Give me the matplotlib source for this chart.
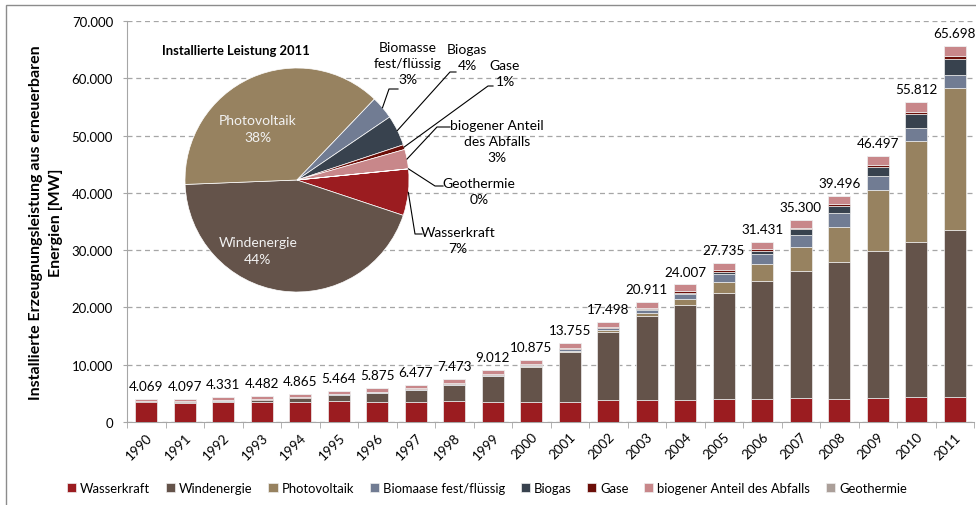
import matplotlib
matplotlib.use("Agg")
import matplotlib.pyplot as plt
import numpy as np
from matplotlib.patches import Rectangle

plt.rcParams['font.family'] = ['Lato', 'DejaVu Sans']

# --- data (MW) ---
years = [str(y) for y in range(1990, 2012)]
wasserkraft = [3429, 3394, 3550, 3509, 3563, 3595, 3510, 3538, 3600, 3523, 3538,
               3538, 3785, 3902, 3805, 4071, 4068, 4156, 4100, 4194, 4351, 4401]
windenergie = [55, 106, 174, 326, 618, 1121, 1549, 2089, 2877, 4435, 6097,
               8750, 11989, 14604, 16623, 18390, 20579, 22194, 23836, 25732, 27098, 29075]
photovoltaik = [2, 3, 6, 9, 12, 18, 28, 42, 54, 70, 114,
                176, 296, 435, 1105, 2056, 2899, 4170, 6120, 10566, 17554, 24820]
biomasse = [40, 40, 40, 40, 50, 60, 70, 80, 90, 100, 150,
            250, 350, 600, 850, 1300, 1700, 2100, 2350, 2450, 2250, 2200]
biogas = [5, 5, 5, 5, 5, 10, 10, 10, 10, 10, 20,
          30, 50, 100, 150, 300, 550, 1000, 1300, 1600, 2500, 2900]
gase = [80, 80, 80, 100, 100, 120, 150, 150, 170, 180, 200,
        200, 200, 250, 300, 350, 350, 300, 300, 300, 350, 450]
abfall = [458, 469, 476, 493, 517, 540, 558, 568, 672, 694, 756,
          811, 828, 1019, 1173, 1267, 1283, 1377, 1487, 1650, 1702, 1845]
geothermie = [0, 0, 0, 0, 0, 0, 0, 0, 0, 0, 0,
              0, 0, 1, 1, 1, 2, 3, 3, 5, 7, 7]

series_names = ['Wasserkraft', 'Windenergie', 'Photovoltaik', 'Biomaase fest/flüssig',
                'Biogas', 'Gase', 'biogener Anteil des Abfalls', 'Geothermie']
series = [wasserkraft, windenergie, photovoltaik, biomasse, biogas, gase, abfall, geothermie]
colors = ['#9b1c20', '#64534a', '#978260', '#717c93', '#38424e', '#6b0e08', '#c8878a', '#ab9f99']

pie_labels = ['Wasserkraft', 'Windenergie', 'Photovoltaik', 'Biomasse\nfest/flüssig',
              'Biogas', 'Gase', 'biogener Anteil\ndes Abfalls', 'Geothermie']

# --- figure ---
fig = plt.figure(figsize=(9.76, 5.06), dpi=100)
W, H = 976, 506
ax = fig.add_axes([127 / W, 1 - 423 / H, (974 - 127) / W, (423 - 22) / H])

x = np.arange(len(years))
bottom = np.zeros(len(years))
for name, vals, c in zip(series_names, series, colors):
    vals = np.array(vals, dtype=float)
    ax.bar(x, vals, 0.57, bottom=bottom, color=c, label=name,
           edgecolor='#eeeeee', linewidth=0.5, zorder=3)
    bottom += vals

totals = bottom
for xi, t in zip(x, totals):
    ax.annotate(f"{int(round(t)):,}".replace(',', '.'), (xi, t), xytext=(0, 5),
                textcoords='offset points', ha='center', va='bottom', fontsize=9.7)

ax.set_xlim(-0.5, len(years) - 0.5)
ax.set_ylim(0, 70000)
ax.set_yticks(np.arange(0, 70001, 10000))
ax.set_yticklabels([f"{v:,}".replace(',', '.') for v in range(0, 70001, 10000)], fontsize=9.5)
ax.yaxis.grid(True, linestyle=(0, (4, 3)), color='#a6a6a6', linewidth=0.9, zorder=0)
ax.set_axisbelow(True)
ax.tick_params(axis='y', length=3, color='#a6a6a6', pad=7)

ax.set_xticks(x)
ax.set_xticklabels(years, rotation=45, ha='right', rotation_mode='anchor', fontsize=9.7)
ax.tick_params(axis='x', which='major', length=0, pad=6)
ax.set_xticks(np.arange(-0.5, len(years), 1), minor=True)
ax.tick_params(axis='x', which='minor', length=4, color='#a6a6a6')

for s in ['top', 'right']:
    ax.spines[s].set_visible(False)
for s in ['left', 'bottom']:
    ax.spines[s].set_color('#a6a6a6')

ax.set_ylabel('Installierte Erzeugnungsleistung aus erneuerbaren\nEnergien [MW]',
              fontsize=11.5, fontweight='bold', linespacing=1.45)
ax.yaxis.set_label_coords(-0.076, 0.5)

handles, labels = ax.get_legend_handles_labels()
fig.legend(handles, labels, loc='center', bbox_to_anchor=(487 / W, 1 - 489 / H),
           ncol=8, frameon=False, fontsize=9.4, handlelength=0.7, handleheight=0.7,
           handletextpad=0.3, columnspacing=1.2)

# --- pie inset ---
cx, cy, r = 297, 181, 112
pax = fig.add_axes([(cx - r) / W, 1 - (cy + r) / H, 2 * r / W, 2 * r / H])
last = [s[-1] for s in series]
total11 = sum(last)
wedges, _ = pax.pie(last, colors=colors, startangle=5.7, counterclock=False,
                    wedgeprops=dict(edgecolor='white', linewidth=0.5))
pax.set_xlim(-1, 1)
pax.set_ylim(-1, 1)
pax.set_aspect('equal')
pax.axis('off')

pct = [f"{round(100 * v / total11)}%" for v in last]

# inside labels
pax.text(-0.35, 0.46, f"{pie_labels[2]}\n{pct[2]}", color='#f2f2f2', ha='center',
         va='center', fontsize=10, linespacing=1.45)
pax.text(-0.35, -0.63, f"{pie_labels[1]}\n{pct[1]}", color='#f2f2f2', ha='center',
         va='center', fontsize=10, linespacing=1.45)

# outside labels: index, text center, leader end point (pixels), elbow offset
outside = [
    (3, (408, 64), (398, 90), 9),
    (4, (467, 58), (456, 73), 6),
    (5, (505, 74), (493, 87), 5),
    (6, (497, 142), (450, 128), 13),
    (7, (479, 192), (443, 187), 8),
    (0, (458, 241), (422, 235), 7),
]
for i, (tx, ty), (ex, ey), d in outside:
    w = wedges[i]
    th = np.deg2rad((w.theta1 + w.theta2) / 2)
    sx, sy = np.cos(th), np.sin(th)
    ex_d, ey_d = (ex - cx) / r, (cy - ey) / r
    bx_d = (ex - d - cx) / r
    pax.plot([sx, bx_d, ex_d], [sy, ey_d, ey_d], color='black', lw=0.8, clip_on=False)
    pax.text((tx - cx) / r, (cy - ty) / r, f"{pie_labels[i]}\n{pct[i]}", ha='center',
             va='center', fontsize=10, linespacing=1.45, clip_on=False)

fig.text(162 / W, 1 - 51 / H, 'Installierte Leistung 2011', fontsize=9.4, fontweight='bold',
         ha='left', va='center')

# chart border
fig.patches.append(Rectangle((6 / W, -0.1), 1.2, 1 - 6 / H + 0.1, transform=fig.transFigure,
                             fill=False, edgecolor='#8c8c8c', linewidth=1))

fig.savefig('out.png', dpi=100)
